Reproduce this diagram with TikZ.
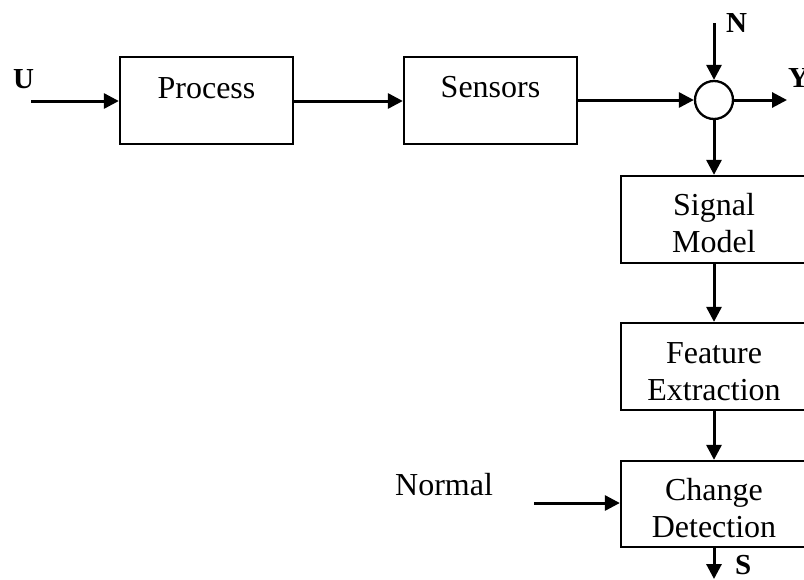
\documentclass[tikz,border=0pt]{standalone}
\usepackage{fontspec}
\setmainfont{Liberation Serif}
\usetikzlibrary{arrows.meta}

\begin{document}
\begin{tikzpicture}[x=1pt,y=-1pt,
  block/.style={draw,line width=2.3pt,rectangle,inner sep=0pt,
    minimum width=#1,minimum height=87pt},
  block/.default=173pt,
  blocktext/.style={align=center,inner sep=0pt,
    font=\fontsize{32}{37}\selectfont},
  sumnode/.style={draw,line width=2.3pt,circle,minimum size=38pt,inner sep=0pt},
  sig/.style={font=\fontsize{29}{32}\selectfont\bfseries,inner sep=0pt},
  plain/.style={font=\fontsize{32}{37}\selectfont,inner sep=0pt},
  flow/.style={line width=3pt,-{Triangle[length=15pt,width=15pt]}}
]
\useasboundingbox (0,0) rectangle (804,579);
\clip (0,0) rectangle (804,579);

% forward path
\node[block] (proc) at (206.5,100.5) {};
\node[blocktext,anchor=base] at (206.5,98) {Process};
\node[block] (sens) at (490.5,100.5) {};
\node[blocktext,anchor=base] at (490.5,97) {Sensors};
\node[sumnode] (sum) at (714,100) {};

% monitoring chain (text anchored on the baseline of its last line)
\node[block=186pt] (model) at (714,219.5) {};
\node[blocktext,anchor=base] at (714,252) {Signal\\Model};
\node[block=186pt] (feat) at (714,366.5) {};
\node[blocktext,anchor=base] at (714,400) {Feature\\Extraction};
\node[block=186pt,minimum height=86pt] (chg) at (714,504) {};
\node[blocktext,anchor=base] at (714,537) {Change\\Detection};

% free ends of the signal lines
\coordinate (uin) at (31,101);
\coordinate (nin) at (714,23);
\coordinate (yout) at (787,100);
\coordinate (nrm) at (534,503);
\coordinate (sout) at (714,579);

% signal labels
\node[sig,anchor=base west] (ulab) at (13,88) {U};
\node[sig,anchor=base west] (nlab) at (726,32) {N};
\node[sig,anchor=base west] (ylab) at (788,87) {Y};
\node[sig,anchor=base west] (slab) at (735,574) {S};
\node[plain,anchor=base west] (nrmlab) at (395,495) {Normal};

% connectors
\draw[flow] (uin) -- (proc.west |- uin);
\draw[flow] (proc.east |- uin) -- (sens.west |- uin);
\draw[flow] (sens.east |- sum) -- (sum.west);
\draw[flow] (nin) -- (sum.north);
\draw[flow] (sum.east) -- (yout);
\draw[flow] (sum.south) -- (model.north);
\draw[flow] (model.south) -- (feat.north);
\draw[flow] (feat.south) -- (chg.north);
\draw[flow] (nrm) -- (chg.west |- nrm);
\draw[flow] (chg.south) -- (sout);
\end{tikzpicture}
\end{document}
